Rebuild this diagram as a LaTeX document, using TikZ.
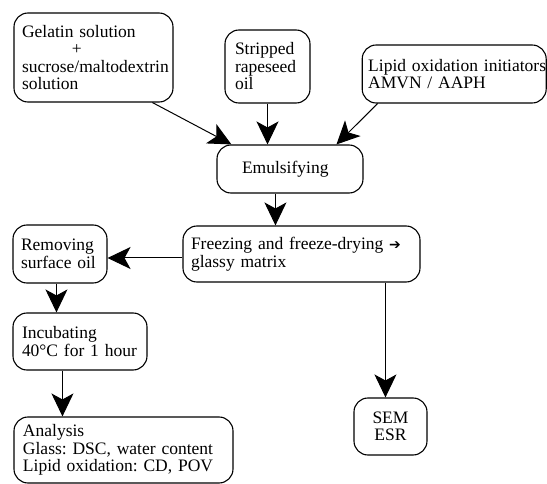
\documentclass[tikz,border=0pt]{standalone}
\usepackage{fontspec}
\setmainfont{Liberation Serif}
\newfontfamily\symfnt{DejaVu Sans}
\usetikzlibrary{arrows.meta}
\frenchspacing
\begin{document}
\begin{tikzpicture}[x=1pt,y=-1pt,
  font=\fontsize{17.5}{17.5}\selectfont\frenchspacing,
  box/.style={draw, line width=1.1pt, rounded corners=14pt, inner ysep=0pt, align=left},
  arr/.style={-{Stealth[length=23pt,width=22pt,inset=6pt]}, line width=1pt}]
\useasboundingbox (0,0) rectangle (547,484);

\node[box, minimum width=159pt, minimum height=89pt, text width=143pt, inner xsep=8pt] (gel) at (93.5,57.5)
  {Gelatin solution\\\hspace*{50pt}+\\\mbox{sucrose/maltodextrin}\\solution};
\node[box, minimum width=85pt, minimum height=73pt, text width=65pt, inner xsep=10pt] (strip) at (267.5,66.5)
  {Stripped\\rapeseed\\oil};
\node[box, minimum width=184pt, minimum height=58pt, text width=172pt, inner xsep=6pt] (lipid) at (454.2,74)
  {\mbox{Lipid oxidation initiators}\\AMVN / AAPH};
\node[box, minimum width=146pt, minimum height=48pt, text width=96pt, inner xsep=25pt] (emul) at (290,169)
  {Emulsifying};
\node[box, minimum width=237pt, minimum height=56pt, text width=221pt, inner xsep=8pt] (freeze) at (301.5,254)
  {\mbox{Freezing and freeze-drying {\symfnt\fontsize{14}{14}\selectfont ➔}}\\glassy matrix};
\node[box, minimum width=94pt, minimum height=58pt, text width=78pt, inner xsep=8pt] (remove) at (60,254)
  {Removing\\\mbox{surface oil}};
\node[box, minimum width=134pt, minimum height=57pt, text width=116pt, inner xsep=9pt] (incub) at (80,341.5)
  {Incubating\\\mbox{40°C for 1 hour}};
\node[box, minimum width=219pt, minimum height=66pt, text width=201pt, inner xsep=9pt] (anal) at (123.5,450)
  {Analysis\\\mbox{Glass: DSC, water content}\\\mbox{Lipid oxidation: CD, POV}};
\node[box, minimum width=73pt, minimum height=57pt, text width=57pt, inner xsep=8pt, align=center] (sem) at (390.5,426.5)
  {SEM\\ESR};

\draw[arr] ([xshift=139pt]gel.south west) -- ([xshift=15pt]emul.north west);
\draw[arr] (strip.south) -- (strip.south |- emul.north);
\draw[arr] ([xshift=16pt]lipid.south west) -- ([xshift=120pt]emul.north west);
\draw[arr] ([xshift=59pt]emul.south west) -- ([xshift=93pt]freeze.north west);
\draw[arr] ([yshift=-4pt]freeze.west) -- ([yshift=-4pt]remove.east);
\draw[arr] ([xshift=44pt]remove.south west) -- ([xshift=44pt]incub.north west);
\draw[arr] ([xshift=50pt]incub.south west) -- ([xshift=49pt]anal.north west);
\draw[arr] ([xshift=203pt]freeze.south west) -- ([xshift=32pt]sem.north west);
\end{tikzpicture}
\end{document}
